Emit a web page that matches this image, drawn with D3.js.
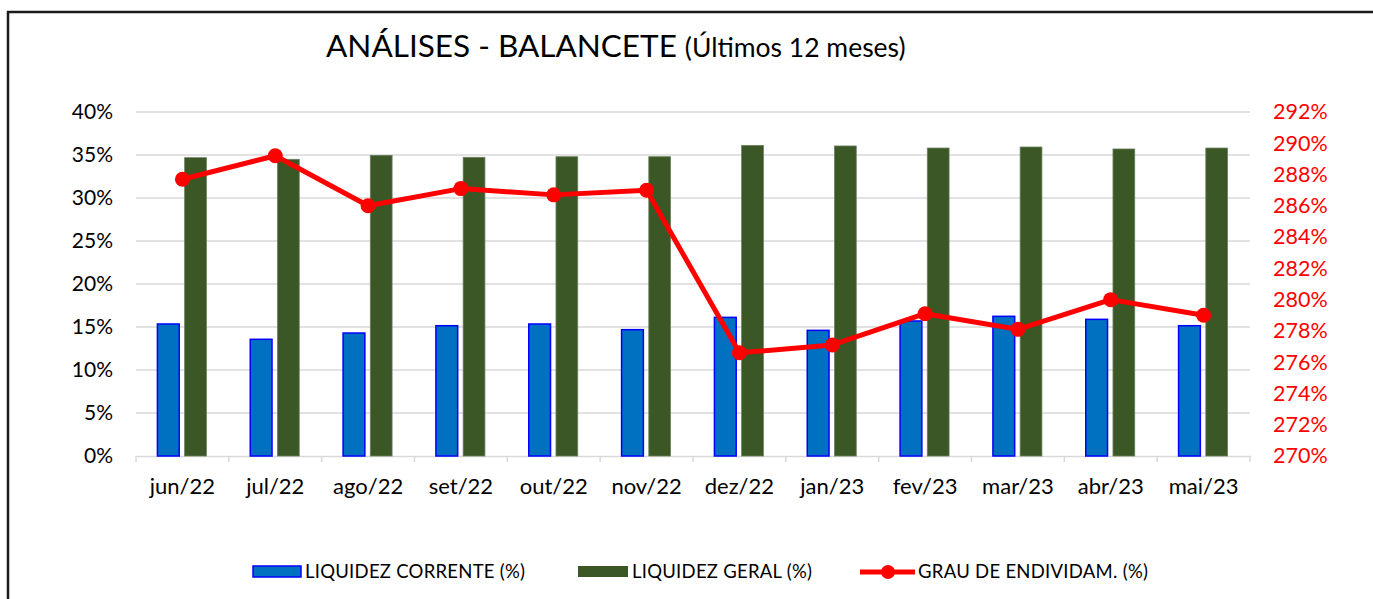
<!DOCTYPE html>
<html>
<head>
<meta charset="utf-8">
<script src="https://cdn.jsdelivr.net/npm/d3@7"></script>
<style>
  body { margin: 0; background: #fff; }
  text { font-family: Lato, "Open Sans", sans-serif; }
</style>
</head>
<body>
<div id="chart"></div>
<script>
// months on the x axis
const months = ["jun/22", "jul/22", "ago/22", "set/22", "out/22", "nov/22",
  "dez/22", "jan/23", "fev/23", "mar/23", "abr/23", "mai/23"];

// series values (fractions)
const liquidezCorrente = [0.1535, 0.1357, 0.1430, 0.1515, 0.1535, 0.1469,
  0.1612, 0.1461, 0.1570, 0.1624, 0.1589, 0.1515];
const liquidezGeral = [0.3469, 0.3450, 0.3496, 0.3473, 0.3480, 0.3480,
  0.3612, 0.3605, 0.3581, 0.3593, 0.3570, 0.3581];
const grauEndividam = [2.877, 2.892, 2.860, 2.871, 2.867, 2.870,
  2.766, 2.771, 2.791, 2.781, 2.800, 2.790];

// tick labels
const leftTicks = [0, 0.05, 0.10, 0.15, 0.20, 0.25, 0.30, 0.35, 0.40];
const rightTicks = [2.70, 2.72, 2.74, 2.76, 2.78, 2.80, 2.82, 2.84, 2.86, 2.88, 2.90, 2.92];

const W = 1373, H = 599;
const plot = { left: 136, right: 1250, top: 112, bottom: 456 };

const svg = d3.select("#chart")
  .append("svg")
  .attr("width", W)
  .attr("height", H);

// chart frame (runs off the right/bottom edge like the original)
svg.append("rect")
  .attr("x", 8).attr("y", 12)
  .attr("width", W + 20).attr("height", H + 20)
  .attr("fill", "#fff")
  .attr("stroke", "#1a1a1a")
  .attr("stroke-width", 2.5);

// title
const title = svg.append("text")
  .attr("x", 326)
  .attr("y", 57)
  .attr("fill", "#000");
title.append("tspan").attr("font-size", 31.5).text("ANÁLISES - BALANCETE");
title.append("tspan").attr("font-size", 26.5).attr("dx", 8).text("(Últimos 12 meses)");

// scales
const x = d3.scaleBand()
  .domain(months)
  .range([plot.left, plot.right]);

const xSub = d3.scaleBand()
  .domain(["lc", "lg"])
  .range([-25, 24])
  .paddingInner(0.2);

const y = d3.scaleLinear()
  .domain([0, 0.40])
  .range([plot.bottom, plot.top]);

const y2 = d3.scaleLinear()
  .domain([2.70, 2.92])
  .range([plot.bottom, plot.top]);

// gridlines
svg.append("g")
  .selectAll("line")
  .data(leftTicks.slice(1))
  .join("line")
  .attr("x1", plot.left).attr("x2", plot.right)
  .attr("y1", d => y(d)).attr("y2", d => y(d))
  .attr("stroke", "#d9d9d9")
  .attr("stroke-width", 1.5);

// left axis
const yAxis = svg.append("g")
  .attr("transform", `translate(${plot.left - 23},0)`)
  .call(d3.axisLeft(y).tickValues(leftTicks).tickFormat(d3.format(".0%")).tickSize(0).tickPadding(0));
yAxis.select(".domain").remove();
yAxis.selectAll("text")
  .attr("font-size", 21)
  .attr("fill", "#000")
  .attr("font-family", "Lato, sans-serif");

// right axis
const y2Axis = svg.append("g")
  .attr("transform", `translate(${plot.right + 23},0)`)
  .call(d3.axisRight(y2).tickValues(rightTicks).tickFormat(d3.format(".0%")).tickSize(0).tickPadding(0));
y2Axis.select(".domain").remove();
y2Axis.selectAll("text")
  .attr("font-size", 21.5)
  .attr("fill", "#ff0000")
  .attr("font-family", "Lato, sans-serif");

// x axis with ticks between categories
const xAxis = svg.append("g")
  .attr("transform", `translate(0,${plot.bottom})`)
  .call(d3.axisBottom(x).tickSize(0).tickPadding(22));
xAxis.select(".domain")
  .attr("stroke", "#d9d9d9")
  .attr("stroke-width", 1.5);
xAxis.selectAll("text")
  .attr("font-size", 22)
  .attr("fill", "#000")
  .attr("font-family", "Lato, sans-serif");
xAxis.selectAll(".catTick")
  .data(months.concat(["end"]))
  .join("line")
  .attr("class", "catTick")
  .attr("x1", (d, i) => plot.left + i * x.step())
  .attr("x2", (d, i) => plot.left + i * x.step())
  .attr("y1", 0).attr("y2", 6)
  .attr("stroke", "#d9d9d9")
  .attr("stroke-width", 1.5);

// bars
const bars = svg.append("g");
bars.selectAll(".lc")
  .data(liquidezCorrente)
  .join("rect")
  .attr("class", "lc")
  .attr("x", (d, i) => x(months[i]) + x.bandwidth() / 2 + xSub("lc"))
  .attr("width", xSub.bandwidth())
  .attr("y", d => y(d))
  .attr("height", d => y(0) - y(d))
  .attr("fill", "#0070c0")
  .attr("stroke", "#0000ff")
  .attr("stroke-width", 1.5);

bars.selectAll(".lg")
  .data(liquidezGeral)
  .join("rect")
  .attr("class", "lg")
  .attr("x", (d, i) => x(months[i]) + x.bandwidth() / 2 + xSub("lg"))
  .attr("width", xSub.bandwidth())
  .attr("y", d => y(d))
  .attr("height", d => y(0) - y(d))
  .attr("fill", "#3a5725")
  .attr("stroke", "#6b7f60")
  .attr("stroke-width", 0.8);

// line on the secondary axis
const line = d3.line()
  .x((d, i) => x(months[i]) + x.bandwidth() / 2)
  .y(d => y2(d));

svg.append("path")
  .datum(grauEndividam)
  .attr("d", line)
  .attr("fill", "none")
  .attr("stroke", "#ff0000")
  .attr("stroke-width", 5)
  .attr("stroke-linejoin", "round");

svg.append("g")
  .selectAll("circle")
  .data(grauEndividam)
  .join("circle")
  .attr("cx", (d, i) => x(months[i]) + x.bandwidth() / 2)
  .attr("cy", d => y2(d))
  .attr("r", 7.5)
  .attr("fill", "#ff0000");

// legend
const legendY = 571;
const legend = svg.append("g").attr("font-size", 18.5);

legend.append("rect")
  .attr("x", 253).attr("y", legendY - 5)
  .attr("width", 48).attr("height", 11)
  .attr("fill", "#0070c0").attr("stroke", "#0000ff").attr("stroke-width", 1.5);
legend.append("text")
  .attr("x", 305).attr("y", legendY + 7)
  .attr("textLength", 220)
  .text("LIQUIDEZ CORRENTE  (%)");

legend.append("rect")
  .attr("x", 578).attr("y", legendY - 5)
  .attr("width", 50).attr("height", 11)
  .attr("fill", "#3a5725");
legend.append("text")
  .attr("x", 632).attr("y", legendY + 7)
  .attr("textLength", 180)
  .text("LIQUIDEZ GERAL  (%)");

legend.append("line")
  .attr("x1", 860).attr("x2", 915)
  .attr("y1", legendY + 1).attr("y2", legendY + 1)
  .attr("stroke", "#ff0000").attr("stroke-width", 5);
legend.append("circle")
  .attr("cx", 888).attr("cy", legendY + 1).attr("r", 7)
  .attr("fill", "#ff0000");
legend.append("text")
  .attr("x", 918).attr("y", legendY + 7)
  .attr("textLength", 230)
  .text("GRAU DE ENDIVIDAM.  (%)");
</script>
</body>
</html>
